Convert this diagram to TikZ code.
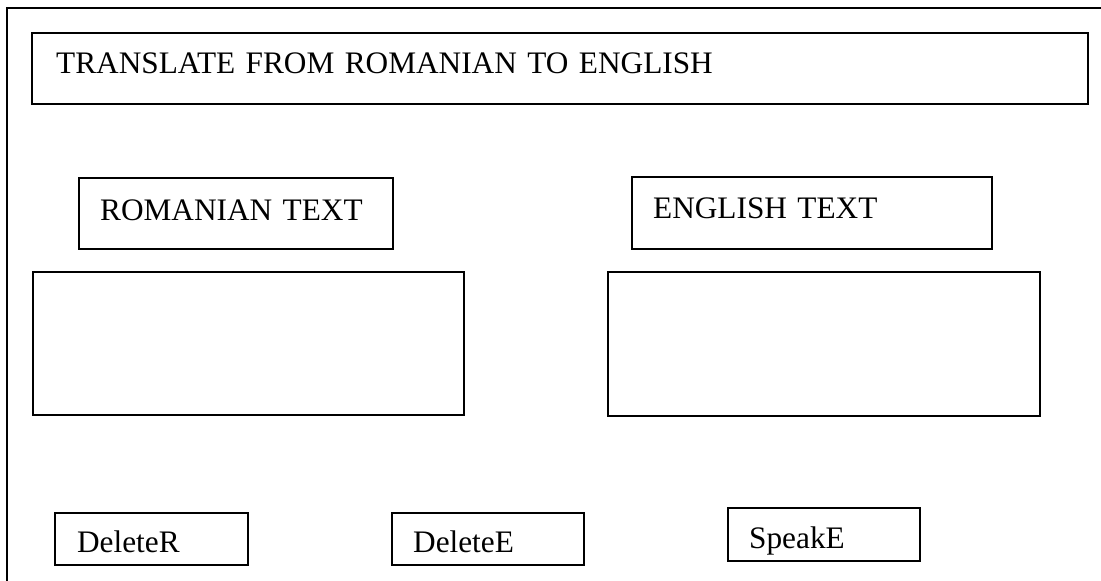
\documentclass[tikz,border=0pt]{standalone}
\usepackage{fontspec}
\setmainfont{Liberation Serif}
\usepackage{tikz}
\usetikzlibrary{positioning}

\begin{document}
\begin{tikzpicture}[
    x=1pt, y=-1pt,
    every node/.style={font=\fontsize{31.3}{36}\selectfont},
    uibox/.style n args={4}{draw, line width=2.3pt, anchor=north west,
        inner ysep=0pt, inner xsep=#1, text width=#2,
        text height=#3, text depth=#4, align=left},
    areabox/.style n args={2}{draw, line width=2.3pt, anchor=north west,
        inner sep=0pt, minimum width=#1, minimum height=#2}
]
\useasboundingbox (0,0) rectangle (1101,581);

% Window frame (cut at right and bottom)
\draw[line width=2.3pt] (1101,8) -- (7,8) -- (7,581);

% Title bar
\node[uibox={24pt}{1008pt}{40pt}{31pt}] (title) at (31,32)
    {TRANSLATE FROM ROMANIAN TO ENGLISH};

% Labels
\node[uibox={21pt}{272pt}{42pt}{29pt}] (rolabel) at (78,177) {ROMANIAN TEXT};
\node[uibox={21pt}{318pt}{41pt}{31pt}] (enlabel) at (631,176) {ENGLISH TEXT};

% Text areas
\node[areabox={431pt}{143pt}] (rotext) at (32,271) {};
\node[areabox={432pt}{144pt}] (entext) at (607,271) {};

% Buttons
\node[uibox={22pt}{149pt}{39pt}{13pt}] (deleter) at (54,512) {DeleteR};
\node[uibox={21pt}{150pt}{39pt}{13pt}] (deletee) at (391,512) {DeleteE};
\node[uibox={21pt}{150pt}{40pt}{13pt}] (speake) at (727,507) {SpeakE};

\end{tikzpicture}
\end{document}
